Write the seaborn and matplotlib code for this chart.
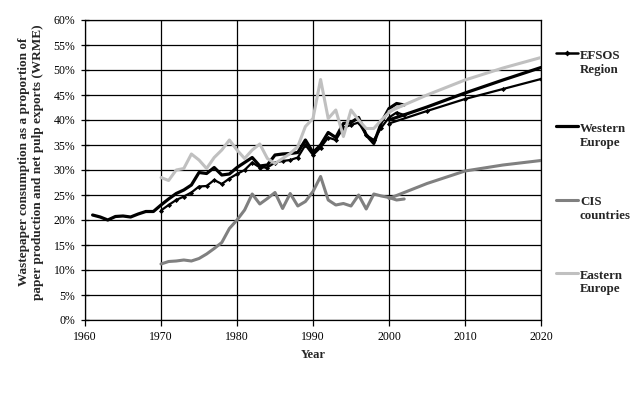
import numpy as np
import pandas as pd
import matplotlib
matplotlib.use("Agg")
import matplotlib.pyplot as plt
import seaborn as sns
from matplotlib.ticker import FuncFormatter, MultipleLocator
from matplotlib.lines import Line2D

# ---------------- data (percent) ----------------
years_we = list(range(1961, 2003))
western_europe = [21.0, 20.6, 20.0, 20.7, 20.8, 20.6, 21.2, 21.7, 21.7, 23.0,
                  24.2, 25.3, 26.0, 27.0, 29.5, 29.3, 30.5, 29.0, 29.2, 30.5,
                  31.5, 32.5, 30.8, 31.0, 33.0, 33.2, 33.3, 33.5, 36.0, 33.5,
                  35.0, 37.5, 36.5, 39.3, 39.5, 40.5, 37.0, 35.3, 39.5, 42.3,
                  43.3, 43.0]

years_hist = list(range(1970, 2003))
efsos_region = [21.9, 23.0, 24.0, 24.7, 25.5, 26.7, 26.8, 28.0, 27.2, 28.3,
                29.2, 30.0, 31.5, 30.5, 30.5, 31.5, 31.8, 32.0, 32.5, 35.0,
                33.0, 34.5, 36.5, 36.0, 38.5, 39.0, 39.5, 37.0, 36.0, 38.5,
                40.5, 41.5, 41.0]
cis_countries = [11.2, 11.7, 11.8, 12.0, 11.8, 12.3, 13.2, 14.3, 15.5, 18.3,
                 20.0, 22.0, 25.2, 23.2, 24.3, 25.5, 22.3, 25.3, 22.8, 23.7,
                 25.7, 28.7, 24.0, 23.0, 23.3, 22.8, 25.0, 22.2, 25.2, 24.8,
                 24.5, 24.0, 24.2]
eastern_europe = [28.5, 27.9, 30.0, 30.3, 33.2, 32.0, 30.3, 32.5, 34.0, 36.0,
                  34.0, 32.3, 34.0, 35.2, 32.3, 31.3, 32.3, 33.3, 34.7, 38.7,
                  40.3, 48.1, 40.3, 42.0, 36.7, 42.0, 40.0, 38.3, 38.3, 40.0,
                  41.5, 42.5, 43.0]

proj_years = [2000, 2005, 2010, 2015, 2020]
efsos_proj = [39.3, 41.8, 44.2, 46.2, 48.2]
we_proj = [40.0, 42.6, 45.4, 48.0, 50.5]
cis_proj = [24.3, 27.3, 29.8, 31.0, 31.9]
ee_proj = [41.7, 45.0, 48.0, 50.4, 52.5]

series_names = ["EFSOS\nRegion", "Western\nEurope", "CIS\ncountries", "Eastern\nEurope"]

# ---------------- tables ----------------
hist = pd.concat([
    pd.DataFrame({"year": years_hist, "value": efsos_region, "series": series_names[0]}),
    pd.DataFrame({"year": years_we, "value": western_europe, "series": series_names[1]}),
    pd.DataFrame({"year": years_hist, "value": cis_countries, "series": series_names[2]}),
    pd.DataFrame({"year": years_hist, "value": eastern_europe, "series": series_names[3]}),
], ignore_index=True)
proj = pd.concat([
    pd.DataFrame({"year": proj_years, "value": efsos_proj, "series": series_names[0]}),
    pd.DataFrame({"year": proj_years, "value": we_proj, "series": series_names[1]}),
    pd.DataFrame({"year": proj_years, "value": cis_proj, "series": series_names[2]}),
    pd.DataFrame({"year": proj_years, "value": ee_proj, "series": series_names[3]}),
], ignore_index=True)

# ---------------- style ----------------
sns.set_style("white")
plt.rcParams["font.family"] = ["Liberation Serif", "DejaVu Serif"]

colors = {series_names[0]: "#000000", series_names[1]: "#000000",
          series_names[2]: "#808080", series_names[3]: "#c0c0c0"}
widths = {series_names[0]: 1.6, series_names[1]: 2.3,
          series_names[2]: 2.2, series_names[3]: 2.2}
markers = {series_names[0]: "D", series_names[1]: None,
           series_names[2]: None, series_names[3]: None}

fig = plt.figure(figsize=(6.42, 3.94), dpi=100)
ax = fig.add_axes([85 / 642, 1 - 320 / 394, (541 - 85) / 642, 300 / 394])

order = [series_names[0], series_names[1], series_names[2], series_names[3]]
zorders = {series_names[0]: 4, series_names[1]: 3, series_names[2]: 2, series_names[3]: 5}
for name in order:
    for df in (hist, proj):
        sub = df[df["series"] == name]
        sns.lineplot(data=sub, x="year", y="value", ax=ax, color=colors[name],
                     linewidth=widths[name], marker=markers[name],
                     markersize=2.6 if markers[name] else 0,
                     markeredgewidth=0, zorder=zorders[name],
                     legend=False, estimator=None, sort=True, clip_on=True)

ax.set_xlim(1960, 2020)
ax.set_ylim(0, 60)
ax.xaxis.set_major_locator(MultipleLocator(10))
ax.yaxis.set_major_locator(MultipleLocator(5))
ax.yaxis.set_major_formatter(FuncFormatter(lambda v, p: f"{v:.0f}%"))
ax.grid(True, color="black", linewidth=0.9)
ax.set_axisbelow(True)
for s in ax.spines.values():
    s.set_color("black")
    s.set_linewidth(0.9)
ax.tick_params(axis="x", direction="out", length=4, width=0.9, labelsize=8.5,
               pad=4, colors="black")
ax.tick_params(axis="y", direction="inout", length=6, width=0.9, labelsize=8.5,
               pad=4, colors="black")
ax.tick_params(left=True, bottom=True)

ax.set_xlabel("Year", fontsize=9, fontweight="bold", labelpad=4)
ax.set_ylabel("Wastepaper consumption as a proportion of\n"
              "paper production and net pulp exports (WRME)",
              fontsize=9.5, fontweight="bold")
ax.yaxis.set_label_coords(-0.09, 0.527)

handles = [Line2D([], [], color=colors[n], linewidth=widths[n] if n != series_names[0] else 1.8,
                  marker=markers[n], markersize=3, markeredgewidth=0) for n in order]
leg = fig.legend(handles, order, loc="upper left",
                 bbox_to_anchor=(556 / 642, 1 - 50 / 394),
                 frameon=False, prop={"weight": "bold", "size": 9.3},
                 handlelength=1.7, handletextpad=0.15, labelspacing=3.67,
                 borderpad=0, borderaxespad=0)
# put each handle level with the first line of its two-line label
for ln in leg.get_lines():
    ln.set_ydata(np.asarray(ln.get_ydata()) + 7.0)

fig.savefig("out.png", dpi=100)
